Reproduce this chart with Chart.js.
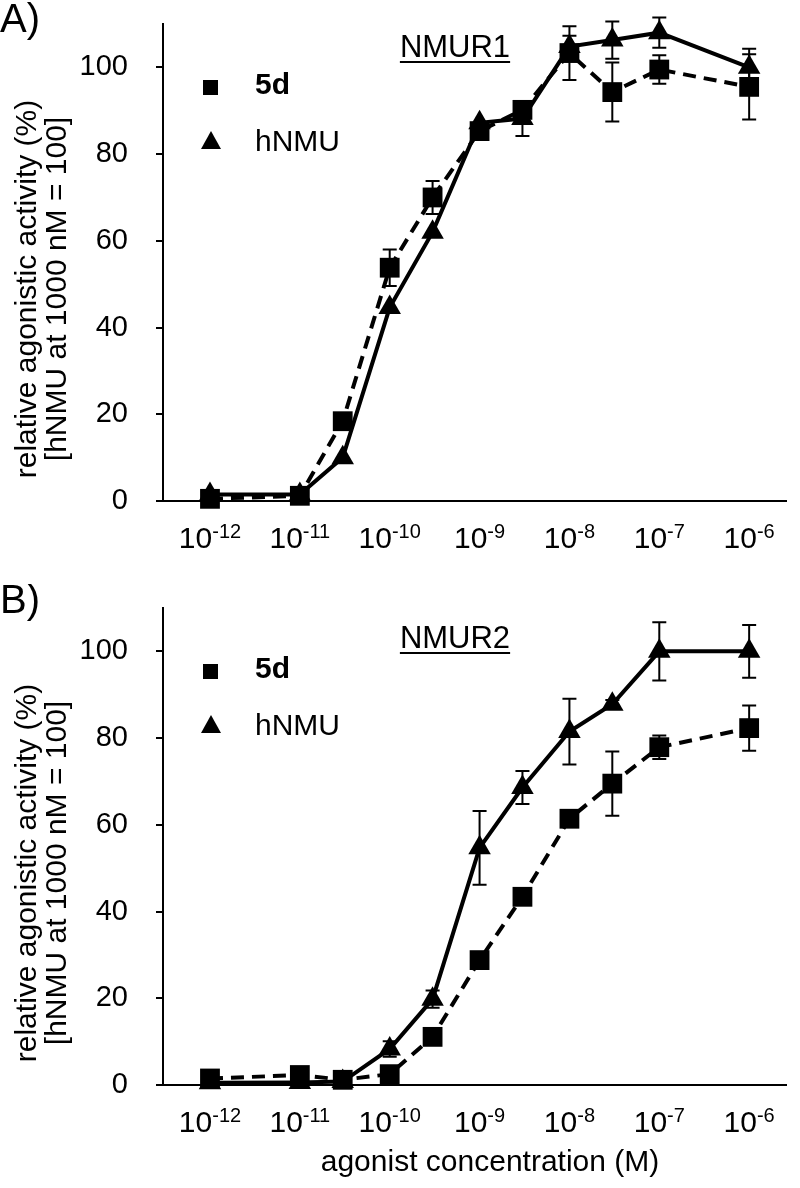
<!DOCTYPE html>
<html>
<head>
<meta charset="utf-8">
<script src="https://cdn.jsdelivr.net/npm/chart.js@4.4.1/dist/chart.umd.min.js"></script>
<style>
    html, body { margin: 0; padding: 0; background: #fff; }
    canvas { display: block; }
</style>
</head>
<body>
<canvas id="chartA" width="800" height="584"></canvas>
<canvas id="chartB" width="800" height="604"></canvas>
<script>
// agonist concentrations (M)
var concentrations = [1e-12, 1e-11, 3e-11, 1e-10, 3e-10, 1e-9, 3e-9, 1e-8, 3e-8, 1e-7, 1e-6];

// NMUR1
var nmur1_5d = [0.5, 1.2, 18.4, 53.8, 70.0, 85.3, 90.2, 103.3, 94.3, 99.5, 95.5];
var nmur1_5dErr = [0, 0, 0, 4.2, 3.8, 0, 1.5, 6.2, 6.8, 3.3, 7.5];
var nmur1_hNMU = [1.5, 1.5, 10.0, 44.6, 62.0, 87.2, 88.2, 104.8, 106.3, 108.0, 100.0];
var nmur1_hNMUErr = [0, 0, 0, 0, 0, 0, 4.0, 2.5, 4.3, 3.5, 4.3];

// NMUR2
var nmur2_5d = [1.5, 2.3, 1.2, 2.5, 11.1, 28.8, 43.4, 61.4, 69.5, 77.9, 82.3];
var nmur2_5dErr = [0, 0, 0, 0, 0, 0, 0, 0, 7.4, 2.7, 5.2];
var nmur2_hNMU = [0.5, 0.6, 0.8, 8.3, 19.8, 54.7, 68.6, 81.5, 87.8, 100.0, 100.0];
var nmur2_hNMUErr = [0, 0, 0, 1.8, 2.0, 8.5, 3.8, 7.6, 1.0, 6.7, 6.1];

// axis ticks
var yTicks = [0, 20, 40, 60, 80, 100];
var xTickExps = [-12, -11, -10, -9, -8, -7, -6];

var seriesNames = ["5d", "hNMU"];
var yTitle = ["relative agonistic activity (%)", "[hNMU at 1000 nM = 100]"];
var xTitle = "agonist concentration (M)";

var FONT = '"Liberation Sans", Arial, sans-serif';

function toPoints(values) {
    return values.map(function (v, i) {
        return { x: concentrations[i], y: v };
    });
};

var errorBarPlugin = {
    id: "errorBars",
    afterDatasetsDraw: function (chart) {
        var ctx = chart.ctx;
        var yScale = chart.scales.y;
        ctx.save();
        ctx.strokeStyle = "#000";
        ctx.lineWidth = 2;
        chart.data.datasets.forEach(function (ds, i) {
            if (!ds.errors) return;
            var meta = chart.getDatasetMeta(i);
            meta.data.forEach(function (pt, j) {
                var err = ds.errors[j];
                if (!err) return;
                var v = ds.data[j].y;
                var top = yScale.getPixelForValue(v + err);
                var bot = yScale.getPixelForValue(v - err);
                ctx.beginPath();
                ctx.moveTo(pt.x, top);
                ctx.lineTo(pt.x, bot);
                ctx.moveTo(pt.x - 7, top);
                ctx.lineTo(pt.x + 7, top);
                ctx.moveTo(pt.x - 7, bot);
                ctx.lineTo(pt.x + 7, bot);
                ctx.stroke();
            });
        });
        ctx.restore();
    }
};

function panelTextPlugin(cfg) {
    return {
        id: "panelText",
        afterDraw: function (chart) {
            var ctx = chart.ctx;
            var xs = chart.scales.x;
            var area = chart.chartArea;
            ctx.save();
            ctx.fillStyle = "#000";
            ctx.strokeStyle = "#000";

            // panel letter
            ctx.font = "40px " + FONT;
            ctx.textAlign = "left";
            ctx.textBaseline = "alphabetic";
            ctx.fillText(cfg.letter, 0, cfg.letterY);

            // receptor label, underlined
            ctx.font = "31px " + FONT;
            ctx.textAlign = "center";
            ctx.fillText(cfg.receptor, 455, cfg.receptorY);
            var rw = ctx.measureText(cfg.receptor).width;
            ctx.fillRect(455 - rw / 2, cfg.receptorY + 4, rw, 2);

            // legend
            ctx.beginPath();
            ctx.rect(203, 80, 15, 15);
            ctx.fill();
            ctx.beginPath();
            ctx.moveTo(211, 131);
            ctx.lineTo(221, 149);
            ctx.lineTo(201, 149);
            ctx.closePath();
            ctx.fill();
            ctx.textAlign = "left";
            ctx.font = "bold 30px " + FONT;
            ctx.fillText(seriesNames[0], 255, 94);
            ctx.font = "30px " + FONT;
            ctx.fillText(seriesNames[1], 255, 151);

            // x tick labels with superscript exponents
            xTickExps.forEach(function (e) {
                var px = xs.getPixelForValue(Math.pow(10, e));
                ctx.font = "30px " + FONT;
                var w1 = ctx.measureText("10").width;
                ctx.font = "20px " + FONT;
                var sup = String(e);
                var w2 = ctx.measureText(sup).width;
                var x0 = px - (w1 + w2) / 2;
                var base = area.bottom + 47;
                ctx.font = "30px " + FONT;
                ctx.fillText("10", x0, base);
                ctx.font = "20px " + FONT;
                ctx.fillText(sup, x0 + w1, base - 10);
            });

            // x axis title
            if (cfg.showXTitle) {
                ctx.font = "30px " + FONT;
                ctx.textAlign = "center";
                ctx.fillText(xTitle, 490, 587);
            }

            // y axis title (two lines, rotated)
            ctx.translate(28, 289);
            ctx.rotate(-Math.PI / 2);
            ctx.font = "30px " + FONT;
            ctx.textAlign = "center";
            ctx.textBaseline = "middle";
            ctx.fillText(yTitle[0], 0, 0);
            ctx.fillText(yTitle[1], 0, 30);
            ctx.restore();
        }
    };
};

function prepareNmurChart(canvasId, values5d, err5d, valuesHNMU, errHNMU, cfg) {
    var ctx = document.getElementById(canvasId).getContext("2d");

    var data = {
        datasets: [
            {
                label: seriesNames[0],
                data: toPoints(values5d),
                errors: err5d,
                borderColor: "#000",
                backgroundColor: "#000",
                borderWidth: 4,
                borderDash: [13, 8],
                pointStyle: "rect",
                pointRadius: 14,
                pointBorderWidth: 0,
                clip: false
            },
            {
                label: seriesNames[1],
                data: toPoints(valuesHNMU),
                errors: errHNMU,
                borderColor: "#000",
                backgroundColor: "#000",
                borderWidth: 4,
                pointStyle: "triangle",
                pointRadius: 13,
                pointBorderWidth: 0,
                clip: false
            }
        ]
    };

    new Chart(ctx, {
        type: "line",
        data: data,
        options: {
            responsive: false,
            animation: false,
            layout: { padding: { top: 24, left: 0, right: 0, bottom: 0 } },
            plugins: {
                legend: { display: false },
                tooltip: { enabled: false }
            },
            scales: {
                x: {
                    type: "logarithmic",
                    min: Math.pow(10, -12.51),
                    max: Math.pow(10, -5.59),
                    ticks: { display: false },
                    grid: { display: false },
                    border: { color: "#000", width: 2 },
                    afterFit: function (s) {
                        s.height = cfg.xAxisHeight;
                        s.paddingLeft = 0;
                        s.paddingRight = 0;
                    }
                },
                y: {
                    min: 0,
                    max: 110,
                    afterBuildTicks: function (s) {
                        s.ticks = yTicks.map(function (v) { return { value: v }; });
                    },
                    afterFit: function (s) {
                        s.width = 163;
                        s.paddingTop = 0;
                        s.paddingBottom = 0;
                    },
                    ticks: {
                        color: "#000",
                        font: { family: FONT, size: 29 },
                        padding: 28
                    },
                    grid: {
                        drawOnChartArea: false,
                        drawTicks: true,
                        tickLength: 7,
                        color: "#000",
                        lineWidth: 2
                    },
                    border: { color: "#000", width: 2 }
                }
            }
        },
        plugins: [errorBarPlugin, panelTextPlugin(cfg)]
    });
};

prepareNmurChart("chartA", nmur1_5d, nmur1_5dErr, nmur1_hNMU, nmur1_hNMUErr,
    { letter: "A)", letterY: 32, receptor: "NMUR1", receptorY: 57, xAxisHeight: 83, showXTitle: false });
prepareNmurChart("chartB", nmur2_5d, nmur2_5dErr, nmur2_hNMU, nmur2_hNMUErr,
    { letter: "B)", letterY: 29, receptor: "NMUR2", receptorY: 64, xAxisHeight: 103, showXTitle: true });
</script>
</body>
</html>
